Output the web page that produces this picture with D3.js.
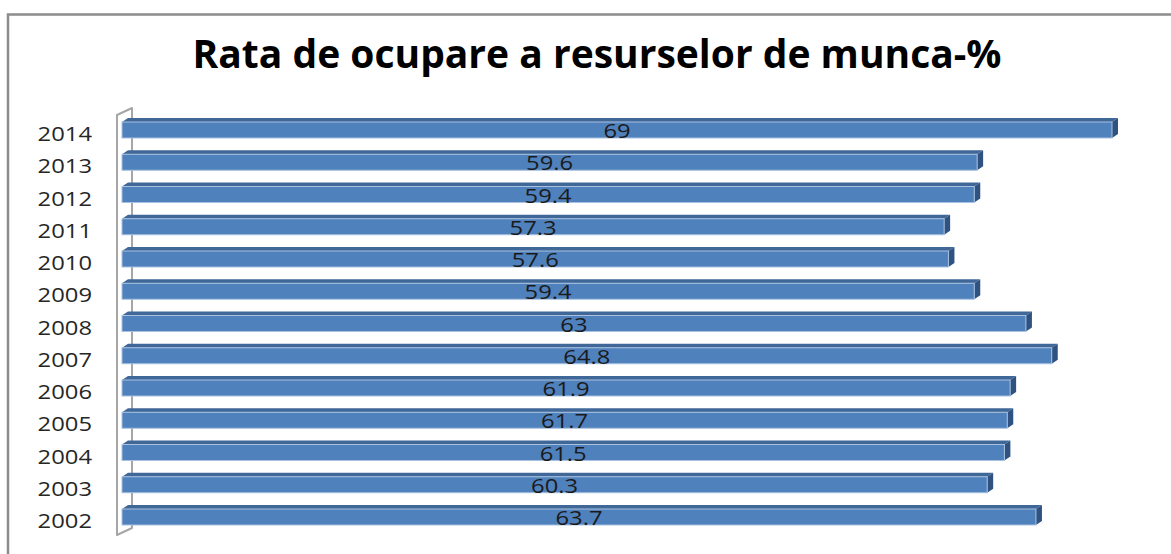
<!DOCTYPE html>
<html>
<head>
<meta charset="utf-8">
<script src="https://cdn.jsdelivr.net/npm/d3@7"></script>
<style>
  html, body { margin: 0; padding: 0; background: #fff; }
  svg { display: block; }
</style>
</head>
<body>
<div id="chart"></div>
<script>
// chart data
const years = ['2002', '2003', '2004', '2005', '2006', '2007', '2008', '2009', '2010', '2011', '2012', '2013', '2014'];
const values = [63.7, 60.3, 61.5, 61.7, 61.9, 64.8, 63, 59.4, 57.6, 57.3, 59.4, 59.6, 69];
const title = 'Rata de ocupare a resurselor de munca-%';

const width = 1171, height = 554;
const barH = 16;          // front face height
const depth = { dx: 6, dy: -4 };   // 3d bar depth
const wall = { dx: 15, dy: -7 };   // 3d wall depth
const stretch = 1.22;     // labels in the original are drawn a bit wide

const svg = d3.select('#chart')
    .append('svg')
    .attr('width', width)
    .attr('height', height);

// outer chart border (right/bottom run off the picture)
svg.append('rect')
    .attr('x', 8).attr('y', 14.5)
    .attr('width', width + 20).attr('height', height + 20)
    .attr('fill', '#fff')
    .attr('stroke', '#8c8c8c')
    .attr('stroke-width', 2.5);

svg.append('text')
    .attr('x', 597).attr('y', 68)
    .attr('text-anchor', 'middle')
    .attr('font-family', 'Open Sans, sans-serif')
    .attr('font-weight', 'bold')
    .attr('font-size', 39)
    .attr('fill', '#000')
    .text(title);

const x = d3.scaleLinear().domain([0, 69]).range([122, 1112]);
const y = d3.scalePoint().domain(years.slice().reverse()).range([130, 517]);

// the back wall of the 3d plot
const wx = 117, wTop = 115, wBot = 535;
svg.append('path')
    .attr('d', `M${wx},${wTop} L${wx + wall.dx},${wTop + wall.dy} L${wx + wall.dx},${wBot + wall.dy} L${wx},${wBot} Z`)
    .attr('fill', '#fff')
    .attr('stroke', '#a6a6a6')
    .attr('stroke-width', 2)
    .attr('stroke-linejoin', 'round');

// year labels
svg.append('g')
    .selectAll('text')
    .data(years)
    .join('text')
    .attr('transform', d => `translate(92,${y(d) + 11}) scale(${stretch},1)`)
    .attr('text-anchor', 'end')
    .attr('font-family', 'Open Sans, sans-serif')
    .attr('font-size', 19.5)
    .attr('fill', '#262626')
    .text(d => d);

const rows = years.map((yr, i) => ({ year: yr, value: values[i] }));

const bars = svg.append('g')
    .selectAll('g')
    .data(rows)
    .join('g');

// top face
bars.append('path')
    .attr('d', d => {
        const x0 = x(0), x1 = x(d.value), t = y(d.year) - barH / 2;
        return `M${x0},${t} L${x0 + depth.dx},${t + depth.dy} L${x1 + depth.dx},${t + depth.dy} L${x1},${t} Z`;
    })
    .attr('fill', '#3f6797');

// side face
bars.append('path')
    .attr('d', d => {
        const x1 = x(d.value), t = y(d.year) - barH / 2;
        return `M${x1},${t} L${x1 + depth.dx},${t + depth.dy} L${x1 + depth.dx},${t + barH + depth.dy} L${x1},${t + barH} Z`;
    })
    .attr('fill', '#2f5280');

// front face
bars.append('rect')
    .attr('x', x(0))
    .attr('y', d => y(d.year) - barH / 2)
    .attr('width', d => x(d.value) - x(0))
    .attr('height', barH)
    .attr('fill', '#4f81bd')
    .attr('stroke', '#a9c1df')
    .attr('stroke-width', 1);

// value labels
bars.append('text')
    .attr('transform', d => `translate(${(x(0) + x(d.value)) / 2},${y(d.year) + 8}) scale(${stretch},1)`)
    .attr('text-anchor', 'middle')
    .attr('font-family', 'Open Sans, sans-serif')
    .attr('font-size', 19.5)
    .attr('fill', '#1a1a1a')
    .text(d => d.value);
</script>
</body>
</html>
